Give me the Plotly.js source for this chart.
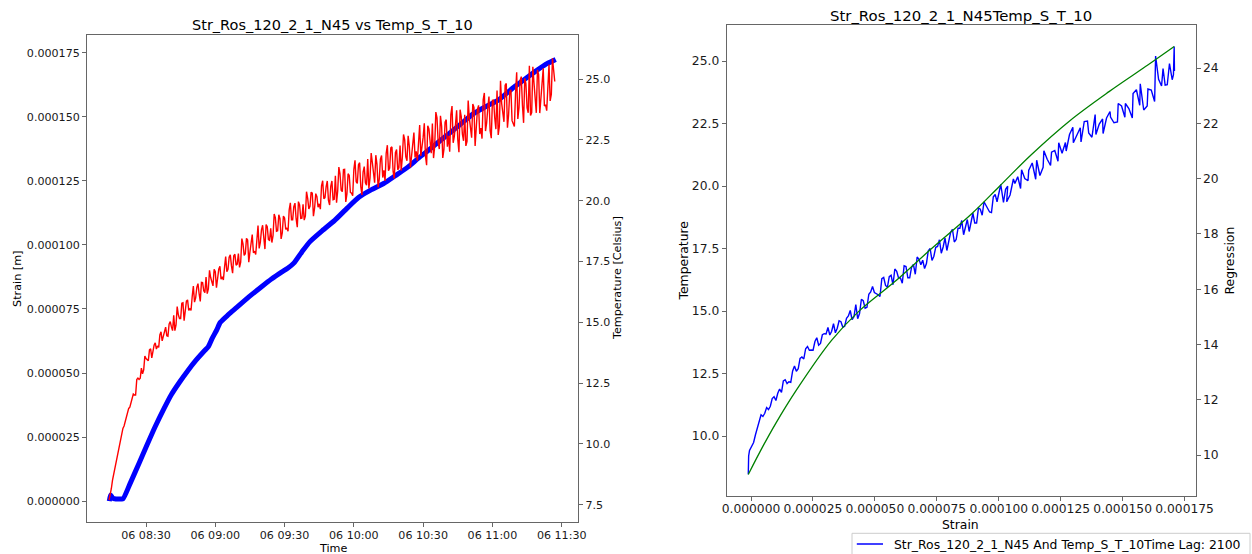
<!DOCTYPE html>
<html>
<head>
<meta charset="utf-8">
<script src="https://cdn.plot.ly/plotly-3.0.1.min.js"></script>
<style>
html,body{margin:0;padding:0;background:#fff;}
#chart{width:1252px;height:554px;}
</style>
</head>
<body>
<div id="chart"></div>
<script>
// ---------------- DATA ----------------
const DAY = '2023-03-06';

// Left chart: temperature Temp_S_T_10 (red), one reading every 30 s from 08:14:00
const tempStartClock = '08:14:00';
const tempStepSeconds = 30;
const tempCelsius = [
  7.69, 7.89, 8.17, 8.51, 8.75, 8.93, 9.16, 9.5, 9.72, 9.89,
  10.15, 10.43, 10.64, 10.74, 10.94, 11.05, 11.3, 11.46, 11.51, 11.68,
  11.86, 12.05, 12.01, 12.01, 12.65, 12.71, 12.65, 12.7, 13.12, 12.88,
  13.05, 13.61, 13.51, 13.44, 13.42, 13.87, 13.91, 13.54, 13.82, 14.06,
  14.16, 13.9, 14.03, 13.97, 14.48, 14.61, 14.24, 14.4, 14.63, 14.8,
  14.45, 14.43, 14.92, 15.03, 14.81, 14.66, 15.29, 14.66, 14.89, 15.65,
  15.31, 15.16, 15.16, 15.78, 15.8, 15.07, 15.47, 15.87, 15.92, 15.49,
  15.55, 15.49, 16.06, 16.49, 15.83, 16.0, 16.44, 16.59, 16.18, 15.86,
  16.64, 16.63, 16.3, 16.22, 16.86, 16.18, 16.37, 17.14, 16.84, 16.61,
  16.5, 17.18, 17.08, 16.42, 16.86, 17.18, 17.3, 16.77, 16.87, 16.74,
  17.26, 17.7, 17.08, 17.18, 17.68, 17.77, 17.32, 17.02, 17.74, 17.8,
  17.35, 17.39, 17.83, 17.26, 17.47, 18.44, 18.22, 17.75, 17.82, 18.45,
  18.38, 17.47, 17.89, 18.41, 18.61, 17.86, 17.92, 17.79, 18.52, 18.98,
  18.04, 18.29, 18.8, 18.99, 18.48, 18.01, 19.02, 18.93, 18.4, 18.37,
  18.86, 18.28, 18.56, 19.45, 19.3, 18.74, 18.76, 19.42, 19.26, 18.43,
  18.68, 19.37, 19.29, 18.82, 18.88, 18.74, 19.62, 19.91, 19.21, 19.21,
  19.75, 19.9, 19.26, 18.91, 19.96, 19.83, 19.27, 19.28, 19.85, 19.2,
  19.36, 20.37, 20.1, 19.66, 19.77, 20.35, 20.31, 19.36, 19.7, 20.29,
  20.16, 19.73, 19.87, 19.65, 20.61, 20.82, 20.08, 20.12, 20.58, 20.81,
  20.01, 19.82, 20.59, 20.81, 20.04, 20.06, 21.02, 19.92, 20.4, 21.38,
  21.1, 20.43, 20.37, 21.28, 21.29, 19.95, 20.28, 21.11, 21.04, 20.34,
  20.31, 20.2, 21.29, 21.66, 20.78, 20.71, 21.48, 21.56, 20.58, 20.24,
  21.18, 21.4, 20.73, 20.64, 21.71, 20.5, 20.93, 21.96, 21.57, 21.02,
  20.74, 21.87, 21.5, 20.55, 20.88, 21.71, 21.86, 20.95, 21.25, 20.81,
  21.95, 22.28, 21.23, 21.34, 22.17, 22.21, 21.2, 20.91, 21.97, 22.1,
  21.27, 21.35, 22.27, 21.23, 21.79, 22.72, 22.51, 21.8, 21.64, 22.67,
  22.25, 21.37, 21.83, 22.54, 22.8, 21.78, 22.03, 21.64, 22.67, 23.11,
  21.84, 22.16, 22.6, 23.18, 21.85, 21.46, 23.08, 22.95, 22.29, 21.95,
  23.17, 21.75, 22.24, 23.64, 23.4, 22.41, 22.12, 23.49, 23.06, 21.76,
  22.11, 23.23, 23.33, 22.22, 22.67, 22.01, 23.54, 23.89, 22.38, 22.64,
  23.12, 23.72, 22.52, 21.99, 23.74, 23.46, 22.73, 22.46, 23.53, 22.25,
  22.44, 24.12, 23.39, 22.88, 22.59, 23.97, 23.83, 22.25, 23.03, 23.74,
  23.92, 22.74, 22.98, 22.55, 24.15, 24.43, 22.86, 23.2, 23.82, 24.28,
  22.88, 22.57, 24.12, 24.13, 23.4, 22.94, 24.53, 22.7, 23.05, 24.93,
  24.0, 23.47, 23.24, 24.75, 24.82, 23.0, 23.52, 24.47, 24.56, 23.29,
  23.17, 23.05, 24.39, 25.28, 23.36, 23.82, 24.94, 25.1, 23.91, 23.2,
  25.03, 24.81, 23.81, 23.61, 25.55, 23.5, 23.62, 25.5, 24.83, 24.11,
  23.61, 25.38, 25.18, 23.6, 24.32, 25.08, 25.44, 23.89, 23.95, 23.7,
  24.88, 25.6, 24.1, 24.37, 25.85, 25.4, 24.9
];

// Left chart: strain Str_Ros_120_2_1_N45 (blue), micro-strain
const strainClock = [
  '08:14:06','08:14:40','08:15:30','08:17:00','08:19:00','08:20:00','08:23:00','08:26:54','08:30:00','08:33:54',
  '08:37:30','08:41:00','08:44:30','08:48:06','08:51:40','08:55:12','08:57:00','08:58:42','09:00:30','09:02:12',
  '09:05:40','09:09:18','09:14:40','09:19:54','09:24:20','09:28:42','09:31:20','09:34:00','09:37:30','09:41:06',
  '09:46:20','09:51:42','09:57:00','10:02:18','10:07:40','10:12:54','10:18:10','10:23:30','10:27:50','10:32:18',
  '10:36:40','10:41:12','10:46:30','10:51:48','10:57:00','11:02:24','11:05:50','11:09:24','11:13:50','11:18:18',
  '11:20:50','11:23:36','11:25:30','11:27:24'
];
const strainMicro = [
  0.0, 2.4, 1.2, 0.8, 0.8, 0.8, 6.6, 14.6, 21.0, 28.9,
  35.6, 41.6, 46.4, 50.9, 55.0, 58.6, 60.3, 63.6, 66.6, 69.8,
  72.8, 75.6, 79.8, 83.6, 86.7, 89.4, 90.9, 92.9, 97.3, 101.4,
  105.6, 109.6, 114.3, 118.7, 121.6, 124.0, 127.2, 130.5, 133.8, 137.0,
  140.2, 143.5, 147.4, 151.3, 154.0, 156.5, 159.0, 161.7, 164.6, 167.6,
  169.2, 170.8, 171.6, 172.4
];

// Right chart: lagged temperature against strain (blue), strain in micro-strain
const lagStrainMicro = [
  -1.1, -1.05, -0.95, -0.6,
  0.3, 1.05, 1.8, 2.55, 3.3, 4.05, 4.8, 5.55, 6.3, 7.05,
  7.8, 8.55, 9.3, 10.05, 10.8, 11.55, 12.3, 13.05, 13.8, 14.55,
  15.3, 16.05, 16.8, 17.55, 18.3, 19.05, 19.8, 20.55, 21.3, 22.05,
  22.8, 23.55, 24.3, 25.05, 25.8, 26.55, 27.3, 28.05, 28.8, 29.55,
  30.3, 31.05, 31.8, 32.55, 33.3, 34.05, 34.8, 35.55, 36.3, 37.05,
  37.8, 38.55, 39.3, 40.05, 40.8, 41.55, 42.3, 43.05, 43.8, 44.55,
  45.3, 46.05, 46.8, 47.55, 48.3, 49.05, 49.8, 50.55, 51.3, 52.05,
  52.8, 53.55, 54.3, 55.05, 55.8, 56.55, 57.3, 58.05, 58.8, 59.55,
  60.3, 61.05, 61.8, 62.55, 63.3, 64.05, 64.8, 65.55, 66.3, 67.05,
  67.8, 68.55, 69.3, 70.05, 70.8, 71.55, 72.3, 73.05, 73.8, 74.55,
  75.3, 76.05, 76.8, 77.55, 78.3, 79.05, 79.8, 80.55, 81.3, 82.05,
  82.8, 83.55, 84.3, 85.05, 85.8, 86.55, 87.3, 88.05, 88.8, 89.55,
  90.3, 91.05, 91.8, 92.55, 93.3, 94.05, 94.8, 95.55, 96.3, 97.05,
  97.8, 98.55, 99.3,
  100.8, 101.9, 102.75, 103.6, 103.2, 104.55, 105.9, 106.5, 107.65, 108.8,
  109.2, 110.5, 111.8, 112.1, 113.5, 114.9, 115.3, 116.6, 117.9, 118.2,
  119.55, 120.9, 121.3, 122.6, 123.9, 124.2, 125.55, 126.9, 127.2, 128.55,
  129.9, 130.1, 131.5, 132.9, 133.2, 134.5, 135.8, 136.3, 137.6, 138.9,
  139.2, 140.55, 141.9, 142.1, 143.5, 144.9, 145.1, 146.5, 147.9, 148.2,
  149.55, 150.9, 151.1, 152.5, 153.9, 154.2, 155.55, 156.9, 157.1, 158.5,
  159.9, 160.2, 161.55, 162.9, 163.3, 164.5, 165.7, 166.3, 167.15, 168.0,
  168.9, 170.0, 170.5, 170.8, 170.9
];
const lagTemperature = [
  8.47, 8.85, 9.2, 9.42,
  9.6, 9.74, 10.05, 10.31, 10.55, 10.85, 10.78, 10.91, 11.14, 11.06,
  11.19, 11.5, 11.57, 11.42, 11.71, 11.88, 11.74, 12.2, 12.25, 12.1,
  12.17, 12.15, 12.6, 12.8, 12.59, 12.69, 13.1, 13.16, 13.08, 13.49,
  13.58, 13.43, 13.44, 13.43, 13.78, 13.93, 13.63, 13.7, 14.05, 14.09,
  14.08, 14.34, 14.04, 14.19, 14.49, 14.13, 14.31, 14.61, 14.57, 14.35,
  14.39, 14.71, 14.8, 15.02, 14.65, 14.77, 15.26, 14.69, 14.9, 15.47,
  15.41, 15.11, 15.15, 15.67, 15.76, 15.98, 15.74, 15.7, 15.65, 15.58,
  16.29, 16.34, 16.02, 15.95, 16.37, 16.43, 16.05, 16.68, 16.59, 16.32,
  16.32, 16.11, 16.81, 16.78, 16.33, 16.33, 16.75, 16.86, 16.47, 17.16,
  17.07, 16.85, 17.03, 16.7, 16.9, 17.41, 17.5, 17.02, 17.19, 17.55,
  17.58, 17.85, 17.31, 17.56, 17.92, 17.42, 17.72, 18.14, 18.27, 17.76,
  17.86, 18.31, 18.31, 18.62, 18.05, 18.32, 18.66, 18.18, 18.63, 18.91,
  18.52, 18.52, 19.12, 19.07, 18.83, 19.37, 19.23, 19.08, 18.96, 18.94,
  19.57, 19.66, 19.37,
  20.06, 19.34, 19.87, 19.99, 19.37, 19.64, 20.28, 20.1, 20.37, 19.9,
  20.65, 20.3, 20.21, 20.63, 20.92, 20.27, 21.03, 20.42, 20.75, 21.41,
  21.07, 20.82, 21.35, 21.42, 20.99, 21.73, 21.31, 21.74, 21.4, 22.06,
  22.35, 21.73, 22.03, 22.33, 21.76, 22.58, 22.6, 22.12, 21.95, 22.86,
  22.06, 22.48, 22.68, 22.1, 22.72, 22.98, 22.76, 22.53, 22.56, 23.3,
  23.2, 22.75, 23.3, 23.1, 22.72, 23.7, 23.85, 23.23, 24.09, 23.04,
  23.2, 23.88, 23.84, 23.38, 25.2, 24.27, 24.0, 24.7, 24.03, 24.05,
  24.9, 24.25, 24.45, 25.58, 24.6
];

// Right chart: regression curve (green)
const regStrainMicro = [-1.1, 5, 10, 18.3, 32.5, 43.5, 57.7, 72, 89.3, 100, 112.9, 128.7, 144.5, 160.3, 170.8];
const regValues      = [9.30, 10.35, 11.15, 12.35, 14.15, 15.2, 16.25, 17.4, 18.75, 19.7, 20.85, 22.1, 23.15, 24.12, 24.78];

const leftTitle  = 'Str_Ros_120_2_1_N45 vs Temp_S_T_10';
const rightTitle = 'Str_Ros_120_2_1_N45Temp_S_T_10';
const legendLabel = 'Str_Ros_120_2_1_N45 And Temp_S_T_10Time Lag: 2100';

// ---------------- BUILD ----------------
const MICRO = 1e-6;
function pad(n){ return (n < 10 ? '0' : '') + n; }
function clockToSec(c){ const p = c.split(':').map(Number); return p[0]*3600 + p[1]*60 + (p[2]||0); }
function secToClock(s){ return pad(Math.floor(s/3600)) + ':' + pad(Math.floor((s%3600)/60)) + ':' + pad(s%60); }
function stamp(c){ return DAY + ' ' + c; }

const t0 = clockToSec(tempStartClock);
const tempTimes = tempCelsius.map((_, i) => stamp(secToClock(t0 + i*tempStepSeconds)));
const strainTimes = strainClock.map(stamp);
const strainVals = strainMicro.map(v => v*MICRO);
const lagStrain = lagStrainMicro.map(v => v*MICRO);
const regStrain = regStrainMicro.map(v => v*MICRO);

const W = 1252, H = 554;
const px = x => x / W;
const py = y => 1 - y / H;

const FONT = 'DejaVu Sans, Liberation Sans, sans-serif';
const leftTick  = {family: FONT, size: 11.1, color: '#1a1a1a'};
const rightTick = {family: FONT, size: 12.3, color: '#1a1a1a'};

const axisBase = {
  showline: true, linecolor: '#666', linewidth: 1,
  ticks: 'outside', ticklen: 4, tickwidth: 1, tickcolor: '#666',
  showgrid: false, zeroline: false, fixedrange: true
};

const traces = [
  {x: strainTimes, y: strainVals, xaxis: 'x', yaxis: 'y', mode: 'lines',
   line: {color: '#0000ff', width: 5, shape: 'spline', smoothing: 0.6}, hoverinfo: 'skip'},
  {x: tempTimes, y: tempCelsius, xaxis: 'x', yaxis: 'y2', mode: 'lines',
   line: {color: '#ff0000', width: 1.4}, hoverinfo: 'skip'},
  {x: lagStrain, y: lagTemperature, xaxis: 'x2', yaxis: 'y3', mode: 'lines', name: legendLabel,
   line: {color: '#0000ff', width: 1.4}, hoverinfo: 'skip'},
  {x: regStrain, y: regValues, xaxis: 'x2', yaxis: 'y4', mode: 'lines',
   line: {color: '#008000', width: 1.3, shape: 'spline', smoothing: 1}, hoverinfo: 'skip'}
];

function ann(text, x, y, size, extra){
  return Object.assign({text: text, x: px(x), y: py(y), xref: 'paper', yref: 'paper',
    showarrow: false, xanchor: 'center', yanchor: 'middle',
    font: {family: FONT, size: size, color: '#000'}}, extra || {});
}

const layout = {
  width: W, height: H,
  margin: {l: 0, r: 0, t: 0, b: 0},
  paper_bgcolor: '#fff', plot_bgcolor: '#fff',
  showlegend: false,
  xaxis: Object.assign({}, axisBase, {
    type: 'date', mirror: true, anchor: 'y',
    domain: [px(87), px(578.3)],
    range: [stamp('08:04:27'), stamp('11:37:11')],
    tick0: stamp('08:00:00'), dtick: 1800000, tickformat: '%d %H:%M',
    tickfont: leftTick, ticklabelstandoff: -2
  }),
  yaxis: Object.assign({}, axisBase, {
    mirror: true, anchor: 'x',
    domain: [py(522.3), py(35)],
    range: [-0.0000083, 0.000182],
    tick0: 0, dtick: 0.000025, tickformat: '.6f',
    tickfont: leftTick
  }),
  yaxis2: Object.assign({}, axisBase, {
    overlaying: 'y', side: 'right', anchor: 'x',
    range: [6.78, 26.81], tick0: 0, dtick: 2.5, tickformat: '.1f',
    tickfont: leftTick
  }),
  xaxis2: Object.assign({}, axisBase, {
    mirror: true, anchor: 'y3',
    domain: [px(726.7), px(1195.5)],
    range: [-0.00000981, 0.0001794],
    tick0: 0, dtick: 0.000025, tickformat: '.6f',
    tickfont: rightTick, ticklen: 3.5, ticklabelstandoff: -2
  }),
  yaxis3: Object.assign({}, axisBase, {
    mirror: true, anchor: 'x2',
    domain: [py(496), py(25)],
    range: [7.6, 26.44], tick0: 0, dtick: 2.5, tickformat: '.1f',
    tickfont: rightTick
  }),
  yaxis4: Object.assign({}, axisBase, {
    overlaying: 'y3', side: 'right', anchor: 'x2',
    range: [8.52, 25.56], tick0: 0, dtick: 2, tickformat: 'd',
    tickfont: rightTick
  }),
  annotations: [
    ann(leftTitle, 332.7, 25.5, 14.5),
    ann(rightTitle, 961, 16.5, 14.9),
    ann('Time', 332.7, 548, 11.2),
    ann('Strain [m]', 17.4, 278.5, 11.2, {textangle: -90}),
    ann('Temperature [Celsius]', 617.5, 278.5, 11.2, {textangle: -90}),
    ann('Strain', 961, 524.5, 12.4),
    ann('Temperature', 683, 260.5, 12.4, {textangle: -90}),
    ann('Regression', 1229, 260.5, 12.4, {textangle: -90}),
    ann(legendLabel, 892, 544, 12.4, {xanchor: 'left'})
  ],
  shapes: [
    {type: 'rect', xref: 'paper', yref: 'paper', x0: px(852), x1: px(1250), y0: py(562), y1: py(533.3),
     line: {color: '#cccccc', width: 1}, fillcolor: 'rgba(255,255,255,0.9)', layer: 'above'},
    {type: 'line', xref: 'paper', yref: 'paper', x0: px(856.8), x1: px(883), y0: py(544), y1: py(544),
     line: {color: '#0000ff', width: 1.5}, layer: 'above'}
  ]
};

Plotly.newPlot('chart', traces, layout, {displayModeBar: false, staticPlot: true});
</script>
</body>
</html>
